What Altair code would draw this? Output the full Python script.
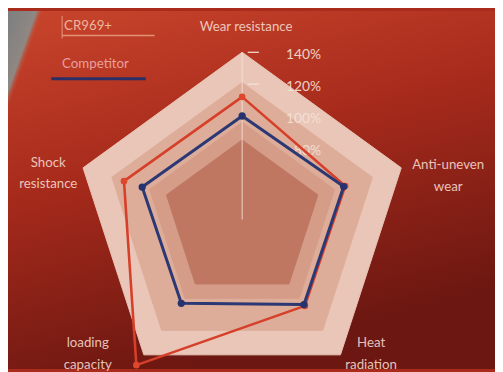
import altair as alt
import pandas as pd
import numpy as np

# ---------------- data ----------------
categories = ["Wear resistance", "Anti-uneven wear", "Heat radiation", "loading capacity", "Shock resistance"]
label_text = ["Wear resistance", "Anti-uneven\nwear", "Heat\nradiation", "loading\ncapacity", "Shock\nresistance"]
series_names = ["CR969+", "Competitor"]
cr969 = [112, 103, 102, 148, 113]
competitor = [100, 102, 101, 100, 101]
tick_values = [80, 100, 120, 140]
tick_labels = ["80%", "100%", "120%", "140%"]

# ---------------- layout ----------------
W, H = 495, 364
CENTER_VAL = 35.0          # value at the centre of the radar
MAX_VAL = 140.0
PX = 170.0 / (MAX_VAL - CENTER_VAL)   # pixels per unit
CX, CY = 238.0, 212.0                 # centre in chart pixels
xdom = [-CX / PX, (W - CX) / PX]
ydom = [-(H - CY) / PX, CY / PX]

band_levels = [140, 121, 96, 85]
band_fills = ["#e9c6b7", "#ddad9a", "#d59c88", "#bf7762"]
# label radius (value units) and small nudges (units) per category
label_r = [156, 171, 137, 137, 163]
label_nudge = [(2.5, 0), (0, -8), (21, 5), (-37, 5), (0, -4)]


def polar(v, i):
    r = v - CENTER_VAL
    a = np.deg2rad(72 * i)
    return r * np.sin(a), r * np.cos(a)


def ring(values, name):
    rows = []
    for k in range(6):
        i = k % 5
        x, y = polar(values[i], i)
        rows.append({"series": name, "cat": categories[i], "value": values[i], "order": k, "x": x, "y": y})
    return pd.DataFrame(rows)


X = lambda f="x": alt.X(f"{f}:Q", scale=alt.Scale(domain=xdom, nice=False, zero=False), axis=None)
Y = lambda f="y": alt.Y(f"{f}:Q", scale=alt.Scale(domain=ydom, nice=False, zero=False), axis=None)

layers = []

# background
bg = pd.DataFrame({"a": [0]})
layers.append(
    alt.Chart(bg).mark_rect(
        fill=alt.Gradient(
            gradient="linear", x1=0, y1=0, x2=0.35, y2=1,
            stops=[alt.GradientStop(color="#c9452c", offset=0),
                   alt.GradientStop(color="#a82b1c", offset=0.45),
                   alt.GradientStop(color="#6c1711", offset=1)]),
    ).encode(x=alt.value(0), x2=alt.value(W), y=alt.value(0), y2=alt.value(H))
)
layers.append(
    alt.Chart(bg).mark_rect(
        fill=alt.Gradient(
            gradient="linear", x1=0, y1=0, x2=1, y2=0.263,
            stops=[alt.GradientStop(color="#7c7f80", offset=0),
                   alt.GradientStop(color="#8f8782", offset=0.055),
                   alt.GradientStop(color="rgba(200,70,45,0)", offset=0.068),
                   alt.GradientStop(color="rgba(200,70,45,0)", offset=1)]),
    ).encode(x=alt.value(0), x2=alt.value(W), y=alt.value(0), y2=alt.value(H))
)

# pentagon bands
for lev, col in zip(band_levels, band_fills):
    d = ring([lev] * 5, f"band{lev}")
    layers.append(
        alt.Chart(d).mark_line(fill=col, stroke=col, strokeWidth=1, strokeJoin="miter")
        .encode(x=X(), y=Y(), order="order:O")
    )

# axis line + ticks
ax = pd.DataFrame({"x": [0.0], "y": [0.0], "y2": [MAX_VAL - CENTER_VAL]})
layers.append(
    alt.Chart(ax).mark_rule(color="#f6e4dc", strokeWidth=1, opacity=0.85)
    .encode(x=X(), y=Y(), y2="y2:Q")
)
tk = pd.DataFrame({"v": tick_values, "lab": tick_labels})
tk["y"] = tk["v"] - CENTER_VAL
tk["x0"] = 3.5
tk["x1"] = 10.5
tk["xl"] = 49.5
layers.append(
    alt.Chart(tk[tk["v"] >= 120]).mark_rule(color="#f6e4dc", strokeWidth=1.2)
    .encode(x=X("x0"), x2="x1:Q", y=Y())
)
layers.append(
    alt.Chart(tk).mark_text(align="right", baseline="middle", dy=3, font="Lato", fontSize=14,
                            color="#f7e2d8", opacity=0.9)
    .encode(x=X("xl"), y=Y(), text="lab:N")
)

# series
red = ring(cr969, "CR969+")
blue = ring(competitor, "Competitor")
layers.append(
    alt.Chart(red).mark_line(color="#d63f29", strokeWidth=2.6, strokeJoin="round")
    .encode(x=X(), y=Y(), order="order:O")
)
layers.append(
    alt.Chart(red[red["order"] < 5]).mark_circle(color="#dc472d", size=45, opacity=1)
    .encode(x=X(), y=Y())
)
layers.append(
    alt.Chart(blue).mark_line(color="#2c3874", strokeWidth=3, strokeJoin="round")
    .encode(x=X(), y=Y(), order="order:O")
)
layers.append(
    alt.Chart(blue[blue["order"] < 5]).mark_circle(color="#27336e", size=55, opacity=1)
    .encode(x=X(), y=Y())
)

# category labels
lab_rows = []
for i, t in enumerate(label_text):
    x, y = polar(label_r[i], i)
    lab_rows.append({"t": t, "x": x + label_nudge[i][0], "y": y + label_nudge[i][1]})
labs = pd.DataFrame(lab_rows)
layers.append(
    alt.Chart(labs).mark_text(align="center", baseline="middle", font="Lato", fontSize=13.5,
                              lineBreak="\n", lineHeight=22, color="#f3d5ca", opacity=0.9)
    .encode(x=X(), y=Y(), text="t:N")
)

# legend
leg = pd.DataFrame({"name": series_names})
layers.append(
    alt.Chart(leg.iloc[[0]]).mark_text(align="left", baseline="middle", font="Lato", fontSize=13.5,
                                        color="#f2c2ad", opacity=0.9)
    .encode(x=alt.value(57), y=alt.value(15), text="name:N")
)
layers.append(
    alt.Chart(leg.iloc[[1]]).mark_text(align="left", baseline="middle", font="Lato", fontSize=13.5,
                                        color="#eaa6a6", opacity=0.95)
    .encode(x=alt.value(55), y=alt.value(54), text="name:N")
)
layers.append(
    alt.Chart(leg.iloc[[0]]).mark_rule(color="#eba88f", strokeWidth=1.5, opacity=0.8)
    .encode(x=alt.value(55), x2=alt.value(149), y=alt.value(25))
)
layers.append(
    alt.Chart(leg.iloc[[0]]).mark_rule(color="#eba88f", strokeWidth=1.2, opacity=0.7)
    .encode(x=alt.value(55), y=alt.value(5), y2=alt.value(28))
)
layers.append(
    alt.Chart(leg.iloc[[1]]).mark_rule(color="#2b2f66", strokeWidth=3)
    .encode(x=alt.value(44), x2=alt.value(140), y=alt.value(69))
)

chart = alt.layer(*layers).properties(
    width=W, height=H, padding=0, background="#a82b1c"
).configure_view(stroke=None)

chart.save("out.html", embed_options={"renderer": "svg", "actions": False})
